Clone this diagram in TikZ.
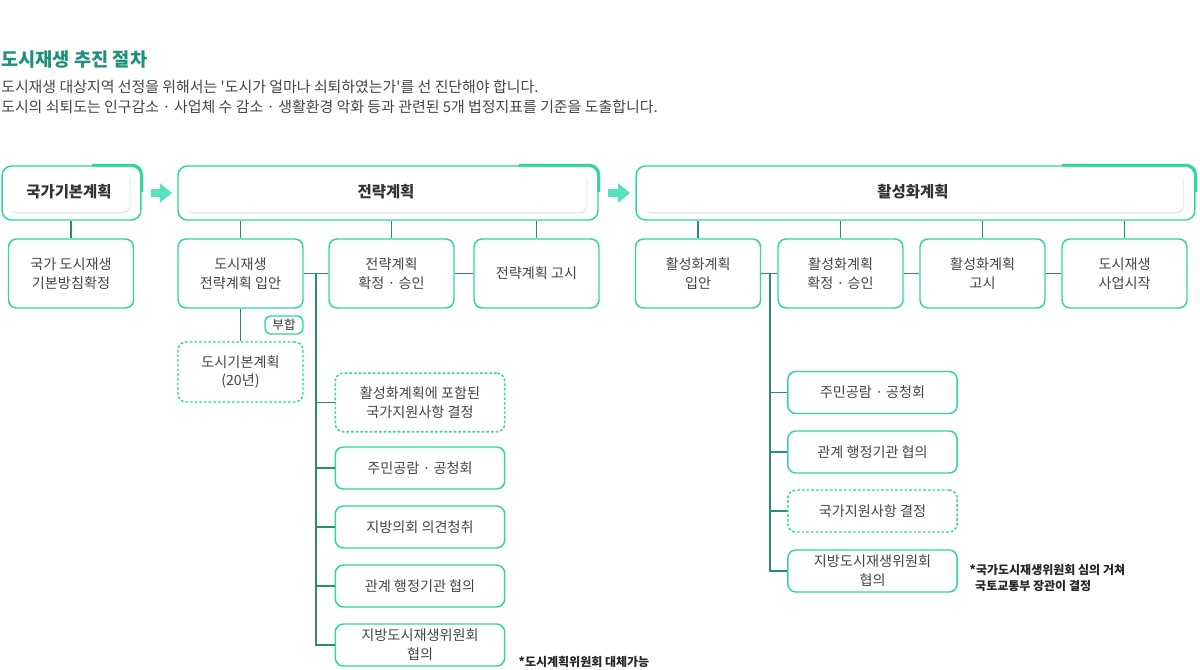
\documentclass[tikz,border=0pt]{standalone}
\usepackage{fontspec}
\setmainfont{Noto Sans CJK KR}
\usetikzlibrary{arrows.meta,shadows}
\definecolor{bordc}{HTML}{2ED6A2}
\definecolor{linec}{HTML}{2B8C74}
\definecolor{titlec}{HTML}{1F8F7E}
\definecolor{txtc}{HTML}{444444}
\definecolor{arrc}{HTML}{55E2BC}
\tikzset{
  box/.style={draw=bordc, line width=1.1pt, rounded corners=6pt, fill=white,
    minimum width=93.75pt, minimum height=51.75pt, align=center, text=txtc,
    inner sep=2pt, font=\fontsize{10.6}{14}\selectfont},
  stepbox/.style={box, minimum width=127pt, minimum height=31.5pt},
  dbox/.style={dashed, dash pattern=on 2pt off 1.5pt},
  hdr/.style={draw=bordc, line width=1.1pt, rounded corners=7pt, fill=white,
    minimum height=40.5pt},
  hdrin/.style={rounded corners=6pt, fill=white, minimum height=30pt,
    drop shadow={opacity=0.18, shadow xshift=0.8pt, shadow yshift=-1.2pt},
    font=\fontsize{11.6}{13}\selectfont\bfseries, text=black!80},
  accent/.style={draw=bordc, line width=2.2pt, rounded corners=7pt},
  conn/.style={draw=linec, line width=1.1pt},
  flow/.style={draw=arrc, line width=6pt, -{Triangle[length=9pt,width=14pt]},
    shorten <=7pt, shorten >=4pt},
  note/.style={anchor=west, font=\fontsize{9}{11.5}\selectfont\bfseries, text=black!85, align=left}
}
\begin{document}
\begin{tikzpicture}[x=0.75pt, y=-0.75pt]
\useasboundingbox (0,0) rectangle (1200,670);

% title
\node[anchor=west, inner sep=0, font=\fontsize{14}{16}\selectfont\bfseries, text=titlec] (title) at (1,60) {도시재생 추진 절차};
\node[anchor=north west, inner sep=0, align=left, text=txtc, font=\fontsize{11.2}{15}\selectfont] (sub) at (1,80)
  {도시재생 대상지역 선정을 위해서는 \textquotesingle 도시가 얼마나 쇠퇴하였는가\textquotesingle 를 선 진단해야 합니다.\\
   도시의 쇠퇴도는 인구감소 · 사업체 수 감소 · 생활환경 악화 등과 관련된 5개 법정지표를 기준을 도출합니다.};

% headers
\node[hdr, minimum width=104pt] (hNat) at (71.5,193) {};
\node[hdrin, minimum width=91pt] (hNatIn) at (69,192) {국가기본계획};
\node[hdr, minimum width=315pt] (hStr) at (388,193) {};
\node[hdrin, minimum width=301pt] (hStrIn) at (386,192) {전략계획};
\node[hdr, minimum width=419pt] (hAct) at (915.5,193) {};
\node[hdrin, minimum width=405pt] (hActIn) at (913,192) {활성화계획};
\foreach \h/\w in {hNat/37, hStr/60, hAct/100}
  \draw[accent] ([xshift=-\w pt]\h.north east) -- (\h.north east) -- ([yshift=-20pt]\h.north east);

\draw[flow] (hNat.east) -- (hStr.west);
\draw[flow] (hStr.east) -- (hAct.west);

% second row
\node[box] (nat) at (71,273.5) {국가 도시재생\\기본방침확정};
\node[box] (ipan) at (240.5,273.5) {도시재생\\전략계획 입안};
\node[box] (conf) at (391.5,273.5) {전략계획\\확정 · 승인};
\node[box] (gosi) at (536.5,273.5) {전략계획 고시};
\node[box] (a1) at (698,273.5) {활성화계획\\입안};
\node[box] (a2) at (840.5,273.5) {활성화계획\\확정 · 승인};
\node[box] (a3) at (982.5,273.5) {활성화계획\\고시};
\node[box] (a4) at (1124.5,273.5) {도시재생\\사업시작};

\draw[conn] (hNat.south -| nat.north) -- (nat.north);
\foreach \b in {ipan,conf,gosi}
  \draw[conn] (hStr.south -| \b.north) -- (\b.north);
\foreach \b in {a1,a2,a3,a4}
  \draw[conn] (hAct.south -| \b.north) -- (\b.north);
\draw[conn] (ipan) -- (conf);
\draw[conn] (conf) -- (gosi);
\draw[conn] (a1) -- (a2);
\draw[conn] (a2) -- (a3);
\draw[conn] (a3) -- (a4);

% basic plan
\node[box, dbox, minimum height=45pt] (basic) at (240.5,372) {도시기본계획\\(20년)};
\node[box, minimum width=28.5pt, minimum height=13.5pt, rounded corners=4pt, inner sep=0pt, text=black!80, font=\fontsize{9.4}{11}\selectfont] (tag) at (284,325) {부합};
\draw[conn] (ipan) -- (basic);

% strategy sub steps
\coordinate (lt) at (316,273.5);
\node[stepbox, dbox, minimum height=44pt] (l1) at (420,402.5) {활성화계획에 포함된\\국가지원사항 결정};
\node[stepbox] (l2) at (420,468) {주민공람 · 공청회};
\node[stepbox] (l3) at (420,527) {지방의회 의견청취};
\node[stepbox] (l4) at (420,586) {관계 행정기관 협의};
\node[stepbox] (l5) at (420,645) {지방도시재생위원회\\협의};
\foreach \b in {l1,l2,l3,l4,l5}
  \draw[conn] (lt) |- (\b.west);
\node[note] (n1) at (514,662) {*도시계획위원회 대체가능};

% activation sub steps
\coordinate (rt) at (770,273.5);
\node[stepbox] (r1) at (872.5,392.5) {주민공람 · 공청회};
\node[stepbox] (r2) at (872.5,452) {관계 행정기관 협의};
\node[stepbox, dbox] (r3) at (872.5,511) {국가지원사항 결정};
\node[stepbox] (r4) at (872.5,571) {지방도시재생위원회\\협의};
\foreach \b in {r1,r2,r3,r4}
  \draw[conn] (rt) |- (\b.west);
\node[note] (n2) at (965,578) {*국가도시재생위원회 심의 거쳐\\\ \ 국토교통부 장관이 결정};
\end{tikzpicture}
\end{document}
